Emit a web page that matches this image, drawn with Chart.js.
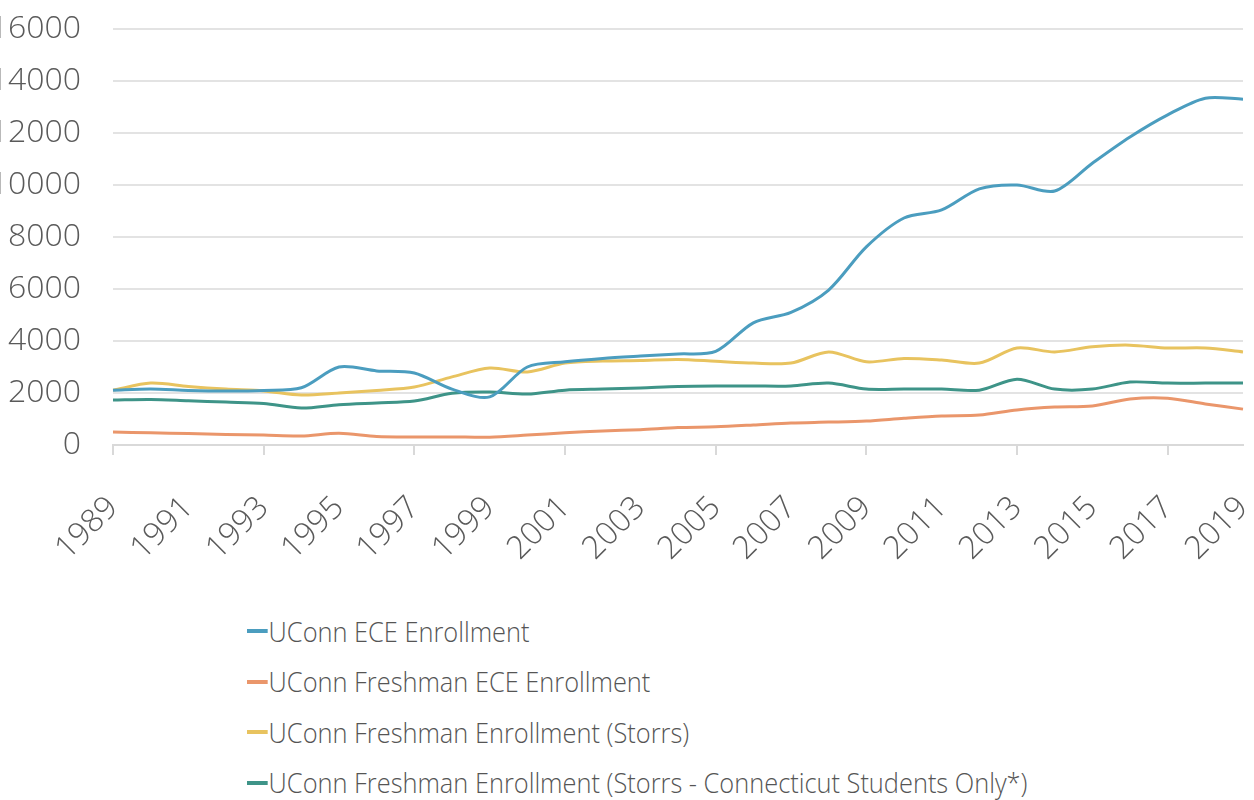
<!DOCTYPE html>
<html>
<head>
<meta charset="utf-8">
<script src="https://cdn.jsdelivr.net/npm/chart.js@4.4.0/dist/chart.umd.min.js"></script>
<style>
  html, body { margin: 0; padding: 0; background: #fff; width: 1254px; height: 800px; overflow: hidden; }
  #wrap { position: absolute; left: -22px; top: 0; width: 1276px; height: 575px; }
  #legend { position: absolute; left: 247px; top: 606px; font-family: "Open Sans", Lato, sans-serif; font-weight: 300; font-size: 27px; color: #555; }
  .item { height: 50.5px; display: flex; align-items: center; transform: scaleX(0.94); transform-origin: left center; white-space: nowrap; }
  .mark { width: 22px; height: 4px; margin-right: 1px; }
</style>
</head>
<body>
<div id="wrap"><canvas id="enrollChart"></canvas></div>
<div id="legend"></div>
<script>
const years = ['1989', '1990', '1991', '1992', '1993', '1994', '1995', '1996', '1997', '1998',
    '1999', '2000', '2001', '2002', '2003', '2004', '2005', '2006', '2007', '2008',
    '2009', '2010', '2011', '2012', '2013', '2014', '2015', '2016', '2017', '2018', '2019'];

const eceEnroll = [2110, 2150, 2100, 2080, 2100, 2200, 3000, 2850, 2770, 2150,
    1850, 3000, 3200, 3330, 3420, 3500, 3600, 4700, 5100, 5960,
    7620, 8730, 9040, 9850, 10000, 9770, 10840, 11850, 12700, 13340, 13300];

const freshEce = [500, 470, 440, 400, 380, 350, 450, 330, 310, 310,
    300, 380, 470, 540, 590, 670, 700, 770, 850, 880,
    920, 1030, 1120, 1150, 1350, 1460, 1500, 1770, 1800, 1580, 1380];

const freshStorrs = [2110, 2380, 2250, 2150, 2080, 1920, 2000, 2100, 2230, 2620,
    2960, 2810, 3150, 3230, 3250, 3290, 3220, 3150, 3150, 3580,
    3200, 3330, 3270, 3150, 3730, 3580, 3780, 3840, 3730, 3730, 3580];

const freshCtOnly = [1730, 1750, 1700, 1650, 1600, 1420, 1550, 1620, 1690, 1990,
    2040, 1960, 2110, 2150, 2190, 2250, 2270, 2270, 2270, 2380,
    2150, 2150, 2150, 2110, 2530, 2150, 2150, 2420, 2380, 2380, 2380];

const seriesNames = ['UConn ECE Enrollment', 'UConn Freshman ECE Enrollment',
    'UConn Freshman Enrollment (Storrs)', 'UConn Freshman Enrollment (Storrs - Connecticut Students Only*)'];
const seriesColours = ['#4b9dbf', '#ea966b', '#e8c35f', '#3e9488'];
const yTicks = [0, 2000, 4000, 6000, 8000, 10000, 12000, 14000, 16000];

const tickFont = { family: '"Open Sans", Lato, sans-serif', size: 32, weight: 300 };

const allSeries = [eceEnroll, freshEce, freshStorrs, freshCtOnly];
const datasets = allSeries.map((vals, i) => ({
    label: seriesNames[i],
    data: vals,
    borderColor: seriesColours[i],
    backgroundColor: seriesColours[i],
    borderWidth: 3,
    pointRadius: 0,
    tension: 0.3,
    fill: false
}));

new Chart('enrollChart', {
    type: 'line',
    data: { labels: years, datasets: datasets },
    options: {
        responsive: true,
        maintainAspectRatio: false,
        animation: false,
        devicePixelRatio: 1,
        layout: { padding: { top: 29, right: 11, left: 0, bottom: 0 } },
        plugins: { legend: { display: false }, tooltip: { enabled: false } },
        scales: {
            x: {
                afterFit: s => { s.height = 130; s.paddingLeft = 0; s.paddingRight = 0; },
                border: { display: true, color: '#d9d9d9', width: 2 },
                grid: {
                    drawOnChartArea: false,
                    tickLength: 10,
                    lineWidth: 2,
                    color: c => (c.index % 4 === 0 ? '#d9d9d9' : 'rgba(0,0,0,0)')
                },
                ticks: {
                    autoSkip: false,
                    maxRotation: 45,
                    minRotation: 45,
                    padding: 34,
                    labelOffset: 0,
                    color: '#5a5a5a',
                    font: tickFont,
                    callback: function (v, i) { return i % 2 === 0 ? years[i] : ''; }
                }
            },
            y: {
                min: 0,
                max: 16000,
                afterFit: s => { s.width = 135; s.paddingTop = 0; s.paddingBottom = 0; },
                afterBuildTicks: s => { s.ticks = yTicks.map(v => ({ value: v })); },
                border: { display: false },
                grid: { color: '#e3e3e3', lineWidth: 2, drawTicks: false },
                ticks: {
                    padding: 32,
                    color: '#5a5a5a',
                    font: tickFont,
                    callback: v => String(v)
                }
            }
        }
    }
});

// legend as a plain vertical list under the chart
const legendDiv = document.getElementById('legend');
seriesNames.forEach((name, i) => {
    const row = document.createElement('div');
    row.className = 'item';
    row.innerHTML = `<span class="mark" style="background:${seriesColours[i]}"></span><span>${name}</span>`;
    legendDiv.appendChild(row);
});
</script>
</body>
</html>
